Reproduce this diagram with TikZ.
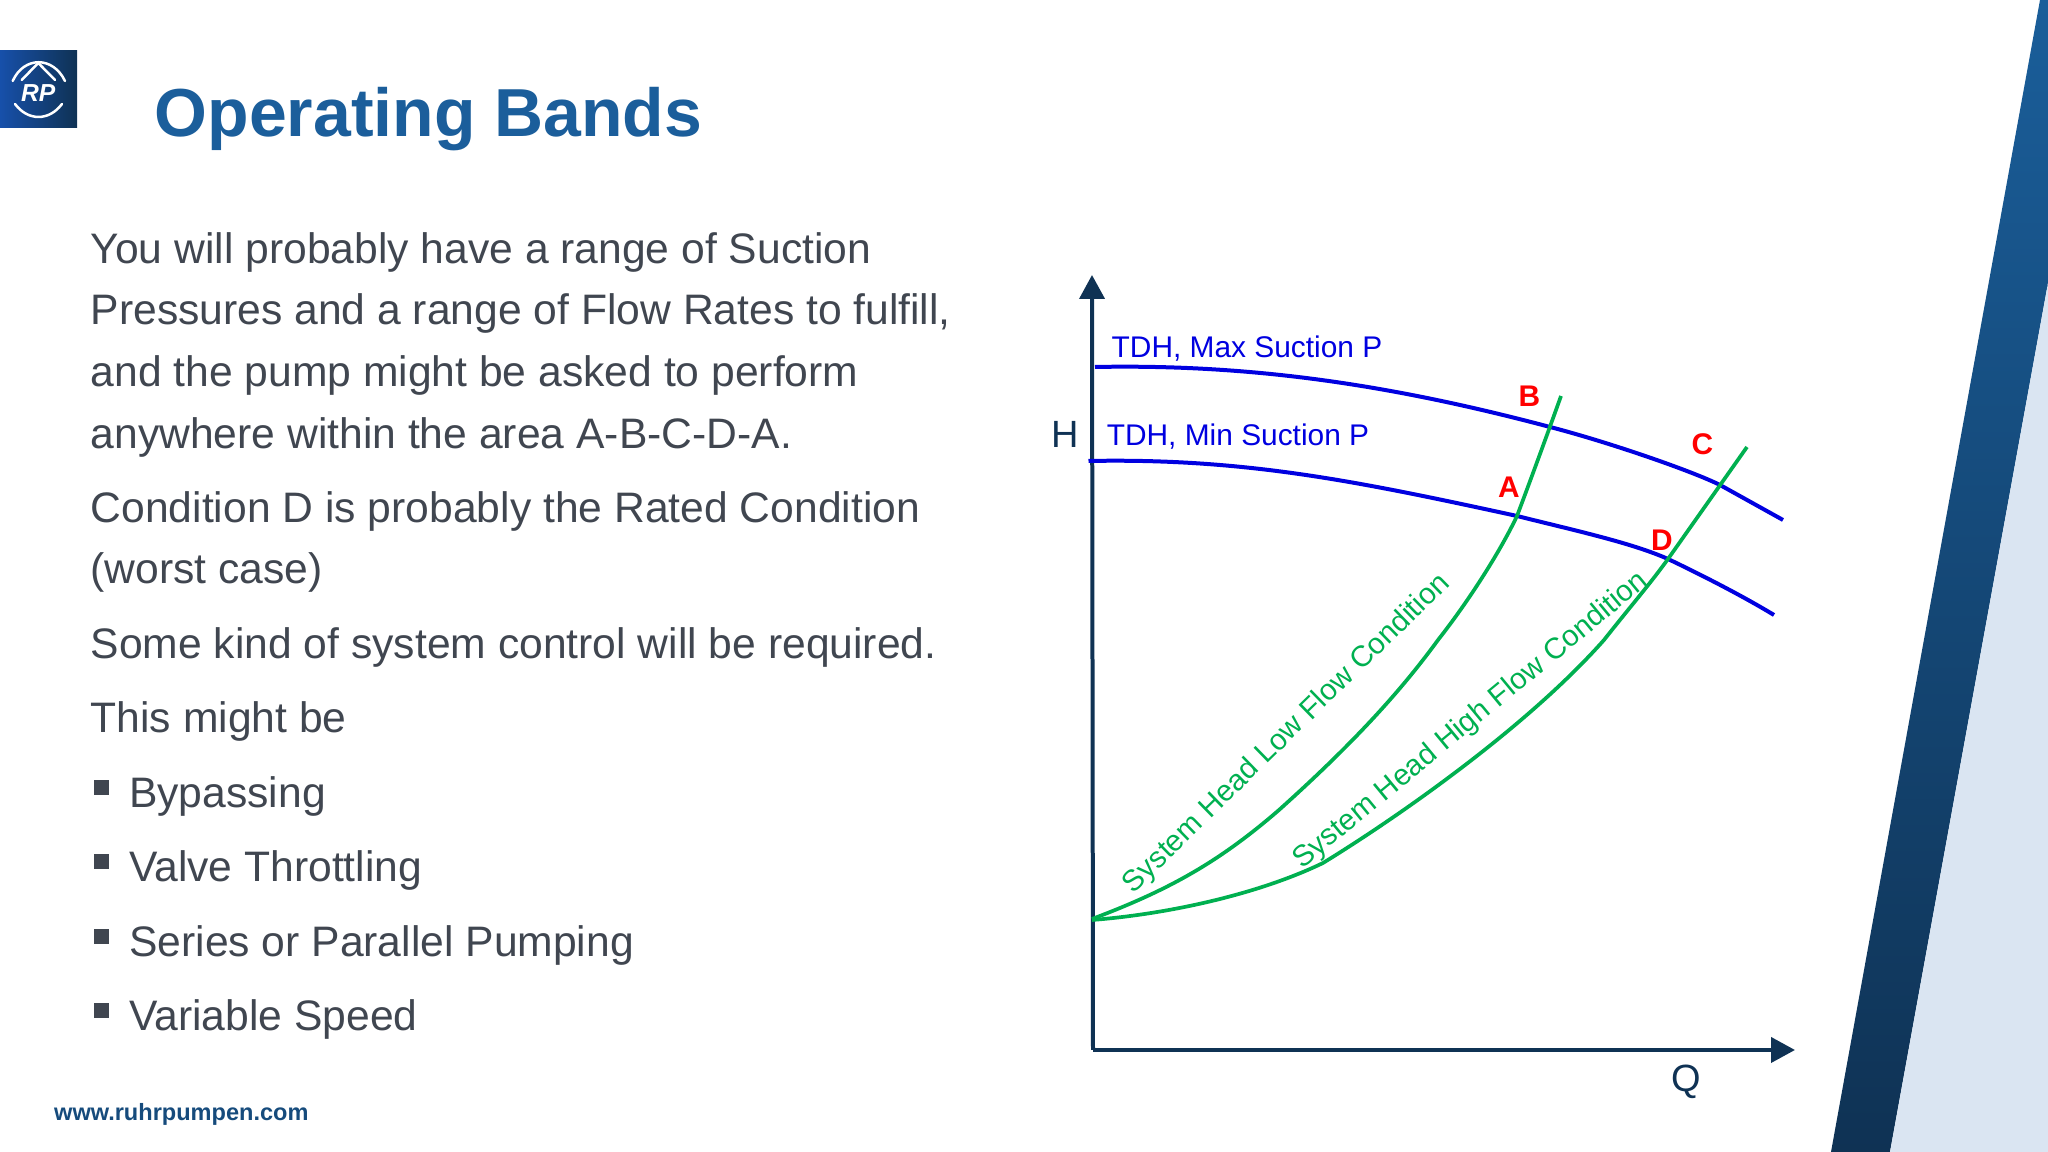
\documentclass[tikz,border=0pt]{standalone}
\usepackage{fontspec}
\setmainfont{Liberation Sans}
\usetikzlibrary{arrows.meta}
\definecolor{rptitle}{HTML}{1B5E9B}
\definecolor{rpbody}{HTML}{404650}
\definecolor{rpnavy}{HTML}{0F3254}
\definecolor{rpblue}{HTML}{0000E0}
\definecolor{rpgreen}{HTML}{00B050}
\definecolor{rplight}{HTML}{DAE5F2}
\definecolor{rpband}{HTML}{1A5E9A}
\tikzset{
    bodytext/.style={anchor=base west, inner sep=0pt, text=rpbody, font=\fontsize{12.13pt}{14pt}\selectfont},
    axisline/.style={line width=0.04cm, rpnavy, -{Triangle[length=0.24cm,width=0.25cm]}},
    pumpcurve/.style={line width=0.04cm, rpblue},
    syscurve/.style={line width=0.037cm, rpgreen},
    pumplabel/.style={inner sep=0pt, text=rpblue, font=\fontsize{8.5pt}{10pt}\selectfont},
    syslabel/.style={inner sep=0pt, text=rpgreen, font=\fontsize{8.4pt}{10pt}\selectfont},
    pointlabel/.style={inner sep=0pt, text=red, font=\fontsize{8.5pt}{10pt}\selectfont\bfseries},
    axislabel/.style={inner sep=0pt, text=rpnavy, font=\fontsize{10.8pt}{13pt}\selectfont},
    logoline/.style={white, line width=0.025cm, line cap=round}
}
\begin{document}
\begin{tikzpicture}
    \useasboundingbox (0,0) rectangle (20.48,11.52);

    % Corner band
    \shade[bottom color=rpnavy, top color=rpband]
        (20.40,11.52) -- (20.48,11.52) -- (20.48,8.69) -- (18.90,0) -- (18.31,0) -- cycle;
    \fill[rplight] (20.48,8.69) -- (20.48,0) -- (18.90,0) -- cycle;

    % Logo
    \shade[shading angle=135, left color=rptitle!85!blue, right color=rpnavy] (0,10.24) rectangle (0.77,11.01);
    \draw[logoline] (0.127,10.71) .. controls (0.24,10.96) and (0.53,10.96) .. (0.65,10.71);
    \draw[logoline] (0.217,10.72) -- (0.383,10.89) -- (0.55,10.72);
    \draw[logoline] (0.15,10.48) .. controls (0.28,10.307) and (0.49,10.307) .. (0.62,10.48);
    \node[inner sep=0pt, text=white, font=\fontsize{7pt}{8pt}\selectfont\bfseries\itshape] (logotext) at (0.383,10.59) {RP};

    % Title
    \node[anchor=base west, inner sep=0pt, text=rptitle, font=\fontsize{19.33pt}{24pt}\selectfont\bfseries] (title) at (1.54,10.15) {Operating Bands};

    % Body text
    \node[bodytext] (line1) at (0.90,8.88) {You will probably have a range of Suction};
    \node[bodytext] (line2) at (0.90,8.27) {Pressures and a range of Flow Rates to fulfill,};
    \node[bodytext] (line3) at (0.90,7.65) {and the pump might be asked to perform};
    \node[bodytext] (line4) at (0.90,7.03) {anywhere within the area A-B-C-D-A.};
    \node[bodytext] (line5) at (0.90,6.29) {Condition D is probably the Rated Condition};
    \node[bodytext] (line6) at (0.90,5.68) {(worst case)};
    \node[bodytext] (line7) at (0.90,4.93) {Some kind of system control will be required.};
    \node[bodytext] (line8) at (0.90,4.19) {This might be};

    % Bullets
    \foreach \y/\name in {3.44/Bypassing, 2.70/Valve Throttling, 1.95/Series or Parallel Pumping, 1.21/Variable Speed}{
        \fill[rpbody] (0.94,\y+0.13) rectangle (1.09,\y+0.28);
        \node[bodytext] at (1.285,\y) {\name};
    }

    % Footer
    \node[anchor=base west, inner sep=0pt, text=rptitle!80!black, font=\fontsize{6.7pt}{8pt}\selectfont\bfseries] (website) at (0.535,0.31) {www.ruhrpumpen.com};

    % Axes
    \coordinate (origin) at (10.93,1.02);
    \coordinate (htip) at (10.92,8.77);
    \coordinate (qtip) at (17.95,1.02);
    \draw[axisline] (origin) -- (htip);
    \draw[axisline] (origin) -- (qtip);
    \node[axislabel] (hlabel) at (10.65,7.18) {H};
    \node[axislabel] (qlabel) at (16.86,0.70) {Q};

    % Pump curves
    \draw[pumpcurve] (10.95,7.85) .. controls (12.49,7.88) and (13.88,7.68) .. (15.50,7.25)
        .. controls (16.08,7.10) and (16.92,6.81) .. (17.20,6.67) -- (17.83,6.32);
    \draw[pumpcurve] (10.885,6.91) .. controls (12.44,6.94) and (13.56,6.71) .. (15.17,6.36)
        .. controls (15.77,6.21) and (16.32,6.09) .. (16.68,5.93)
        .. controls (16.89,5.83) and (17.36,5.60) .. (17.74,5.37);
    \node[pumplabel] (maxlabel) at (12.47,8.03) {TDH, Max Suction P};
    \node[pumplabel] (minlabel) at (12.38,7.15) {TDH, Min Suction P};

    % System curves
    \draw[syscurve] (10.92,2.33) .. controls (11.69,2.62) and (12.19,2.90) .. (12.79,3.42)
        .. controls (13.38,3.95) and (13.93,4.50) .. (14.38,5.12)
        .. controls (14.68,5.50) and (15.00,6.00) .. (15.17,6.36)
        .. controls (15.28,6.65) and (15.50,7.25) .. (15.61,7.56);
    \draw[syscurve] (10.92,2.32) .. controls (11.69,2.38) and (12.59,2.58) .. (13.23,2.89)
        .. controls (13.98,3.35) and (15.27,4.25) .. (16.04,5.12)
        .. controls (16.30,5.45) and (16.50,5.68) .. (16.68,5.93) -- (17.47,7.05);
    \node[syslabel, rotate=44.3] (lowlabel) at (12.87,4.18) {System Head Low Flow Condition};
    \node[syslabel, rotate=39.5] (highlabel) at (14.71,4.31) {System Head High Flow Condition};

    % Band corners
    \node[pointlabel] (ptA) at (15.09,6.65) {A};
    \node[pointlabel] (ptB) at (15.295,7.56) {B};
    \node[pointlabel] (ptC) at (17.025,7.08) {C};
    \node[pointlabel] (ptD) at (16.62,6.12) {D};
\end{tikzpicture}
\end{document}
